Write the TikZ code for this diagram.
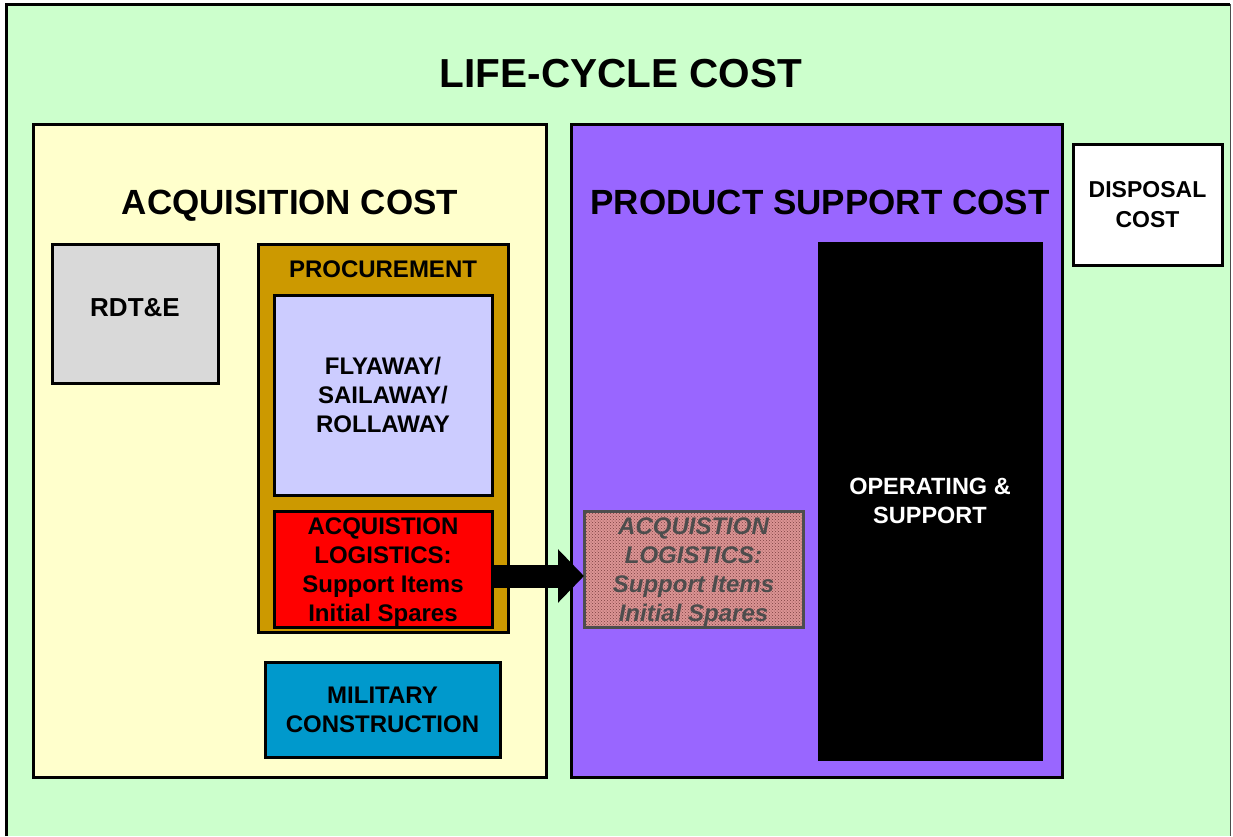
\documentclass[tikz,border=0pt]{standalone}
\usepackage{fontspec}
\setmainfont{Liberation Sans}
\usetikzlibrary{arrows.meta,patterns}
\definecolor{lcgreen}{HTML}{CCFFCC}
\definecolor{acqyellow}{HTML}{FFFFCC}
\definecolor{pscpurple}{HTML}{9966FF}
\definecolor{rdtegray}{HTML}{D9D9D9}
\definecolor{procgold}{HTML}{CC9900}
\definecolor{flylav}{HTML}{CCCCFF}
\definecolor{milblue}{HTML}{0099CC}
\definecolor{hatchpink}{HTML}{DC9494}
\definecolor{hatchdot}{HTML}{7A4040}
\definecolor{hatchtext}{HTML}{4D4D4D}
\newcommand{\lowtext}[1]{\raisebox{-3pt}[\height][\depth]{\begin{tabular}{@{}c@{}}#1\end{tabular}}}
\tikzset{
  costbox/.style={draw=black, line width=3pt, anchor=north west, align=center,
    inner sep=0pt, outer sep=0pt, font=\bfseries\fontsize{24}{29}\selectfont},
  bigtitle/.style={anchor=base, font=\bfseries\fontsize{35}{40}\selectfont},
}
\begin{document}
\begin{tikzpicture}[x=1pt, y=-1pt]
  \useasboundingbox (0,0) rectangle (1233,836);
  % life-cycle frame
  \fill[lcgreen] (6,4) rectangle (1230,836);
  \draw[line width=3pt] (6,836) -- (6,4) -- (1230,4);
  \draw[line width=1pt, black!70] (1230,4) -- (1230,836);
  \node[bigtitle, font=\bfseries\fontsize{40.5}{45}\selectfont] (lcc) at (621,87) {LIFE-CYCLE COST};
  % acquisition
  \node[costbox, fill=acqyellow, minimum width=513pt, minimum height=653pt] (acq) at (33,124) {};
  \node[bigtitle] (acqtitle) at (290,214) {ACQUISITION COST};
  \node[costbox, fill=rdtegray, minimum width=166pt, minimum height=139pt,
    font=\bfseries\fontsize{26}{30}\selectfont] (rdte) at (52,244) {\raisebox{12pt}{RDT\&E}};
  \node[costbox, fill=procgold, minimum width=250pt, minimum height=388pt] (proc) at (258,244) {};
  \node[anchor=base, font=\bfseries\fontsize{24}{29}\selectfont] (proctitle) at (383,277) {PROCUREMENT};
  \node[costbox, fill=flylav, minimum width=218pt, minimum height=200pt] (fly) at (274,295)
    {FLYAWAY/\\SAILAWAY/\\ROLLAWAY};
  \node[costbox, fill=red, minimum width=218pt, minimum height=116pt] (logi) at (274,511)
    {\lowtext{ACQUISTION\\LOGISTICS:\\Support Items\\Initial Spares}};
  \node[costbox, fill=milblue, minimum width=235pt, minimum height=95pt] (milcon) at (265,662)
    {MILITARY\\CONSTRUCTION};
  % product support
  \node[costbox, fill=pscpurple, minimum width=491pt, minimum height=653pt] (psc) at (571,124) {};
  \node[bigtitle] (psctitle) at (820,214) {PRODUCT SUPPORT COST};
  \node[costbox, draw=hatchtext, text=hatchtext, preaction={fill=hatchpink},
    pattern=crosshatch dots, pattern color=hatchdot, minimum width=219pt, minimum height=116pt,
    font=\bfseries\itshape\fontsize{24}{29}\selectfont] (spares) at (584,511)
    {\lowtext{ACQUISTION\\LOGISTICS:\\Support Items\\Initial Spares}};
  \node[costbox, fill=black, text=white, minimum width=222pt, minimum height=516pt,
    font=\bfseries\fontsize{23.5}{29.5}\selectfont] (ops) at (819,243) {OPERATING \&\\SUPPORT};
  % disposal
  \node[costbox, fill=white, minimum width=149pt, minimum height=121pt,
    font=\bfseries\fontsize{23}{29.5}\selectfont] (disp) at (1073,144) {DISPOSAL\\COST};
  % transfer arrow
  \draw[line width=23pt, -{Triangle[length=26pt, width=52pt]}]
    ([yshift=-7pt]logi.east) -- ([yshift=-7pt]spares.west);
\end{tikzpicture}
\end{document}
